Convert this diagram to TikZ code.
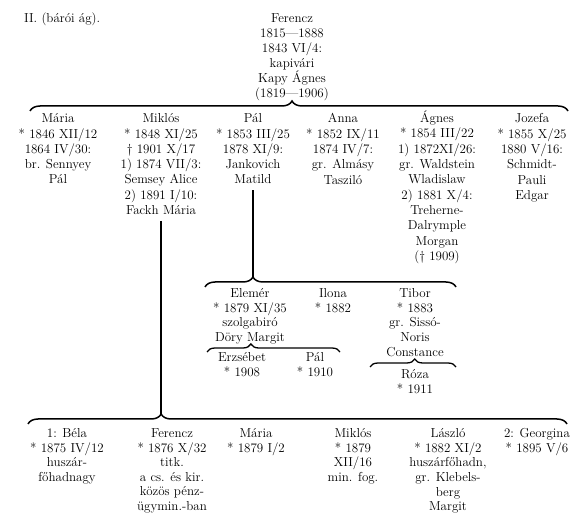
\documentclass[tikz,border=0pt]{standalone}
\usepackage{fontspec}
\usetikzlibrary{decorations.pathreplacing}

\begin{document}
\begin{tikzpicture}[x=1pt, y=1pt,
      every node/.style={font=\fontsize{13}{14.6}\selectfont, inner sep=0pt},
      pers/.style={align=center, anchor=north},
      tpers/.style={pers, font=\fontsize{13}{15.3}\selectfont},
      brc/.style={decorate, line width=1.5pt,
                  decoration={brace, amplitude=10pt, aspect=#1}},
      sbrc/.style={decorate, line width=1.3pt,
                   decoration={brace, amplitude=8pt, aspect=#1}},
      ln/.style={line width=1.8pt}
  ]
    \useasboundingbox (0,0) rectangle (581,-526);

    % --- Head of the branch ---
    \node[anchor=base west] (title) at (24,-23) {II. (bárói ág).};
    \node[tpers, font=\fontsize{13}{15}\selectfont] (ferenc) at (292,-13)
          {Ferencz\\1815—1888\\1843 VI/4:\\kapivári\\Kapy Ágnes\\(1819—1906)};

    \coordinate (b0l) at (30,-111);
    \coordinate (b0r) at (568,-111);
    \draw[brc=0.487] (b0l) -- (b0r);

    % --- Children ---
    \node[tpers] (maria) at (58,-113.5)
          {Mária\\* 1846 XII/12\\1864 IV/30:\\br. Sennyey\\Pál};
    \node[tpers] (miklos) at (161,-113.5)
          {Miklós\\* 1848 XI/25\\† 1901 X/17\\1) 1874 VII/3:\\Semsey Alice\\2) 1891 I/10:\\Fackh Mária};
    \node[tpers] (pal) at (253,-113.5)
          {Pál\\* 1853 III/25\\1878 XI/9:\\Jankovich\\Matild};
    \node[tpers] (anna) at (343,-113.5)
          {Anna\\* 1852 IX/11\\1874 IV/7:\\gr. Almásy\\Tasziló};
    \node[tpers] (agnes) at (437,-110.7)
          {Ágnes\\* 1854 III/22\\1) 1872XI/26:\\gr. Waldstein\\Wladislaw\\2) 1881 X/4:\\Treherne-\\Dalrymple\\Morgan\\(† 1909)};
    \node[tpers] (jozefa) at (532,-113.5)
          {Jozefa\\* 1855 X/25\\1880 V/16:\\Schmidt-\\Pauli\\Edgar};

    % --- Pál's line ---
    \coordinate (b1l) at (205,-287);
    \coordinate (b1r) at (456,-287);
    \coordinate (b1t) at (253,-277);
    \draw[brc=0.191] (b1l) -- (b1r);
    \draw[ln] ([yshift=-6pt]pal.south) -- (pal.south |- b1t);

    \node[pers] (elemer) at (250,-288.5)
          {Elemér\\* 1879 XI/35\\szolgabiró\\Döry Margit};
    \node[pers] (ilona) at (333,-288.5) {Ilona\\* 1882};
    \node[pers] (tibor) at (415,-288.5)
          {Tibor\\* 1883\\gr. Sissó-\\Noris\\Constance};

    \coordinate (b2l) at (207,-352);
    \coordinate (b2r) at (340,-352);
    \draw[sbrc=0.33] (b2l) -- (b2r);
    \node[pers] (erzsebet) at (242,-352.5) {Erzsébet\\* 1908};
    \node[pers] (pal2) at (315,-352.5) {Pál\\* 1910};

    \coordinate (b3l) at (370,-367);
    \coordinate (b3r) at (456,-367);
    \draw[sbrc=0.52] (b3l) -- (b3r);
    \node[pers] (roza) at (415,-369.5) {Róza\\* 1911};

    % --- Miklós's line ---
    \coordinate (b4l) at (28,-424);
    \coordinate (b4r) at (567,-424);
    \coordinate (b4t) at (161,-414);
    \draw[brc=0.247] (b4l) -- (b4r);
    \draw[ln] ([yshift=-6pt]miklos.south) -- (miklos.south |- b4t);

    \node[pers] (bela) at (67,-428.5)
          {1: Béla\\* 1875 IV/12\\huszár-\\főhadnagy};
    \node[pers] (ferenc2) at (172,-428.5)
          {Ferencz\\* 1876 X/32\\titk.\\a cs. és kir.\\közös pénz-\\ügymin.-ban};
    \node[pers] (maria2) at (256,-428.5) {Mária\\* 1879 I/2};
    \node[pers] (miklos2) at (353,-428.5)
          {Miklós\\* 1879\\XII/16\\min. fog.};
    \node[pers] (laszlo) at (448,-428.5)
          {László\\* 1882 XI/2\\huszárfőhadn,\\gr. Klebels-\\berg\\Margit};
    \node[pers] (georgina) at (537,-428.5) {2: Georgina\\* 1895 V/6};

  \end{tikzpicture}
\end{document}
